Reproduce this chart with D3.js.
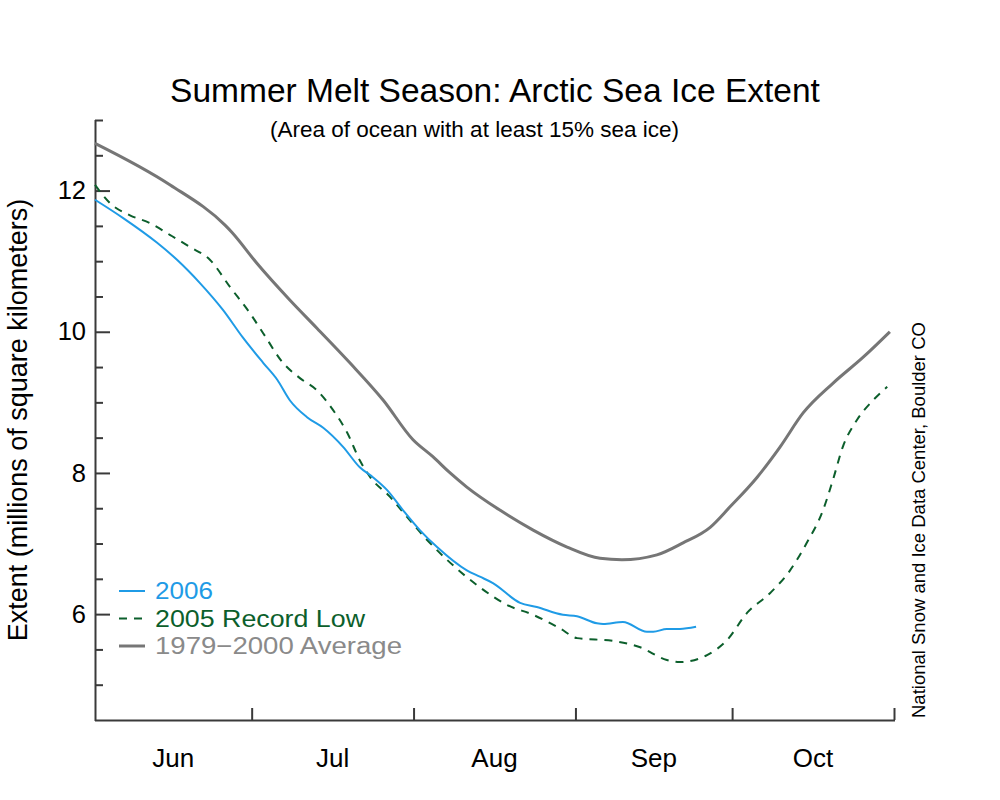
<!DOCTYPE html>
<html>
<head>
<meta charset="utf-8">
<script src="https://cdn.jsdelivr.net/npm/d3@7"></script>
<style>
  html, body { margin: 0; padding: 0; background: #fff; }
  svg { display: block; font-family: "Liberation Sans", Arial, Helvetica, sans-serif; }
</style>
</head>
<body>
<svg id="chart" width="1000" height="800"></svg>
<script>
// ---- data (days since June 1, extent in millions of km²) ----
const months = ["Jun", "Jul", "Aug", "Sep", "Oct"];
const yMajorTicks = [6, 8, 10, 12];
const yMinorTicks = [5, 5.5, 6.5, 7, 7.5, 8.5, 9, 9.5, 10.5, 11, 11.5, 12.5, 13];

const avgDays   = [0, 14.4, 24.9, 26.2, 31.0, 37.3, 42.5, 48.8, 55.2, 60.9, 64.7, 68.0, 71.2, 77.6, 83.9, 90.4, 96.7, 100.9, 107.6, 112.6, 117.8, 121.6, 126.8, 131.2, 135.6, 141.3, 147.1, 152.2];
const avgValues = [12.67, 12.08, 11.51, 11.41, 10.97, 10.45, 10.05, 9.56, 9.03, 8.47, 8.23, 8.00, 7.80, 7.47, 7.19, 6.95, 6.79, 6.77, 6.84, 7.01, 7.23, 7.52, 7.94, 8.37, 8.85, 9.27, 9.64, 10.00];

const rec2005Days   = [0, 2.9, 6.7, 10.5, 14.4, 18.2, 22.0, 25.9, 29.7, 32.2, 36.0, 39.3, 42.5, 45.6, 48.3, 50.7, 52.7, 56.5, 59.7, 63.6, 67.4, 73.7, 78.9, 83.9, 89.0, 92.3, 99.2, 104.4, 109.5, 112.0, 117.2, 121.0, 124.9, 129.3, 133.1, 136.3, 139.4, 141.3, 143.2, 145.9, 149.0, 151.7];
const rec2005Values = [12.08, 11.82, 11.65, 11.54, 11.37, 11.20, 11.02, 10.63, 10.26, 9.98, 9.56, 9.34, 9.17, 8.89, 8.57, 8.18, 7.94, 7.66, 7.38, 7.05, 6.77, 6.38, 6.13, 5.99, 5.80, 5.66, 5.62, 5.53, 5.35, 5.32, 5.42, 5.63, 6.02, 6.30, 6.62, 7.01, 7.47, 7.90, 8.37, 8.75, 9.03, 9.22];

const y2006Days   = [0, 5.4, 11.9, 15.7, 20.1, 24.5, 28.3, 32.2, 34.9, 37.3, 40.6, 43.7, 47.5, 50.7, 53.2, 55.9, 59.0, 62.2, 65.5, 71.2, 73.7, 76.2, 81.4, 84.6, 89.6, 92.3, 96.1, 97.3, 101.1, 105.7, 106.9, 109.5, 112.0, 115.1];
const y2006Values = [11.87, 11.61, 11.26, 11.02, 10.69, 10.31, 9.92, 9.56, 9.32, 9.03, 8.79, 8.64, 8.37, 8.08, 7.94, 7.76, 7.47, 7.19, 6.95, 6.62, 6.53, 6.44, 6.16, 6.10, 5.99, 5.97, 5.87, 5.86, 5.89, 5.75, 5.75, 5.79, 5.79, 5.82];

const legendLabels = ["2006", "2005 Record Low", "1979\u22122000 Average"];

// ---- styles ----
const colBlue = "#1f9be6", colGreen = "#0c5f2c", colGray = "#767676";
const axisCol = "#3a3a3a";

const svg = d3.select("#chart");
const start = new Date(Date.UTC(2006, 5, 1));
const end = new Date(Date.UTC(2006, 10, 1));
const toDate = d => new Date(start.getTime() + d * 86400000);

const x = d3.scaleUtc().domain([start, end]).range([95, 894]);
const y = d3.scaleLinear().domain([4.5, 13]).range([720, 120]);

// axes
const gL = svg.append("g").attr("transform", "translate(95,0)");
gL.call(d3.axisRight(y).tickValues(yMajorTicks).tickSize(15).tickSizeOuter(0).tickFormat(""));
gL.append("g").call(d3.axisRight(y).tickValues(yMinorTicks).tickSize(8).tickSizeOuter(0).tickFormat(""))
  .select(".domain").remove();
gL.selectAll("path, line").attr("stroke", axisCol).attr("stroke-width", 2);
gL.select(".domain").attr("d", `M0.5,${y(13)}V${y(4.5)+1}`);

const gLab = svg.append("g").attr("transform", "translate(95,0)")
  .call(d3.axisLeft(y).tickValues(yMajorTicks).tickSize(0).tickPadding(9).tickFormat(d3.format("d")));
gLab.select(".domain").remove();
gLab.selectAll("text").attr("font-size", 25.5).attr("fill", "#000").attr("font-family", "Liberation Sans, Arial, sans-serif");

const monthStarts = d3.utcMonth.range(new Date(Date.UTC(2006, 6, 1)), new Date(Date.UTC(2006, 10, 2)));
const gB = svg.append("g").attr("transform", "translate(0,720)")
  .call(d3.axisTop(x).tickValues(monthStarts).tickSize(12).tickSizeOuter(0).tickFormat(""));
gB.selectAll("path, line").attr("stroke", axisCol).attr("stroke-width", 2);
gB.select(".domain").attr("d", `M${x(start)},0.5H${x(end)+1}`);

// month labels centred in each month
months.forEach((m, i) => {
  const a = new Date(Date.UTC(2006, 5 + i, 1)), b = new Date(Date.UTC(2006, 6 + i, 1));
  svg.append("text").attr("x", (x(a) + x(b)) / 2).attr("y", 767)
    .attr("text-anchor", "middle").attr("font-size", 26).attr("fill", "#000").text(m);
});

// lines
const line = d3.line().x(d => x(toDate(d[0]))).y(d => y(d[1])).curve(d3.curveMonotoneX);
const zip = (a, b) => a.map((v, i) => [v, b[i]]);

svg.append("path").datum(zip(avgDays, avgValues)).attr("d", line)
  .attr("fill", "none").attr("stroke", colGray).attr("stroke-width", 3);
svg.append("path").datum(zip(rec2005Days, rec2005Values)).attr("d", line)
  .attr("fill", "none").attr("stroke", colGreen).attr("stroke-width", 2).attr("stroke-dasharray", "8,7");
svg.append("path").datum(zip(y2006Days, y2006Values)).attr("d", line)
  .attr("fill", "none").attr("stroke", colBlue).attr("stroke-width", 2);

// titles
svg.append("text").attr("x", 495).attr("y", 102).attr("text-anchor", "middle")
  .attr("font-size", 33.5).attr("fill", "#000").text("Summer Melt Season: Arctic Sea Ice Extent");
svg.append("text").attr("x", 474.5).attr("y", 137).attr("text-anchor", "middle")
  .attr("font-size", 22.5).attr("fill", "#000").text("(Area of ocean with at least 15% sea ice)");

svg.append("text").attr("transform", "translate(27,420) rotate(-90)").attr("text-anchor", "middle")
  .attr("font-size", 27).attr("fill", "#000").text("Extent (millions of square kilometers)");

svg.append("text").attr("transform", "translate(925,718) rotate(-90)").attr("text-anchor", "start")
  .attr("font-size", 18.5).attr("fill", "#000").text("National Snow and Ice Data Center, Boulder CO");

// legend
const legCols = [colBlue, colGreen, colGray];
const legTextCols = [colBlue, colGreen, "#8a8a8a"];
const legDash = [null, "8,7", null];
const legW = [2, 2, 3];
const legLen = [58, 210, 247];
legendLabels.forEach((t, i) => {
  const cy = 591 + i * 27.5;
  svg.append("line").attr("x1", 119).attr("x2", 145).attr("y1", cy).attr("y2", cy)
    .attr("stroke", legCols[i]).attr("stroke-width", legW[i]).attr("stroke-dasharray", legDash[i]);
  svg.append("text").attr("x", 155).attr("y", cy).attr("dy", "0.36em")
    .attr("font-size", 23.5).attr("textLength", legLen[i]).attr("lengthAdjust", "spacingAndGlyphs")
    .attr("fill", legTextCols[i]).text(t);
});
</script>
</body>
</html>
